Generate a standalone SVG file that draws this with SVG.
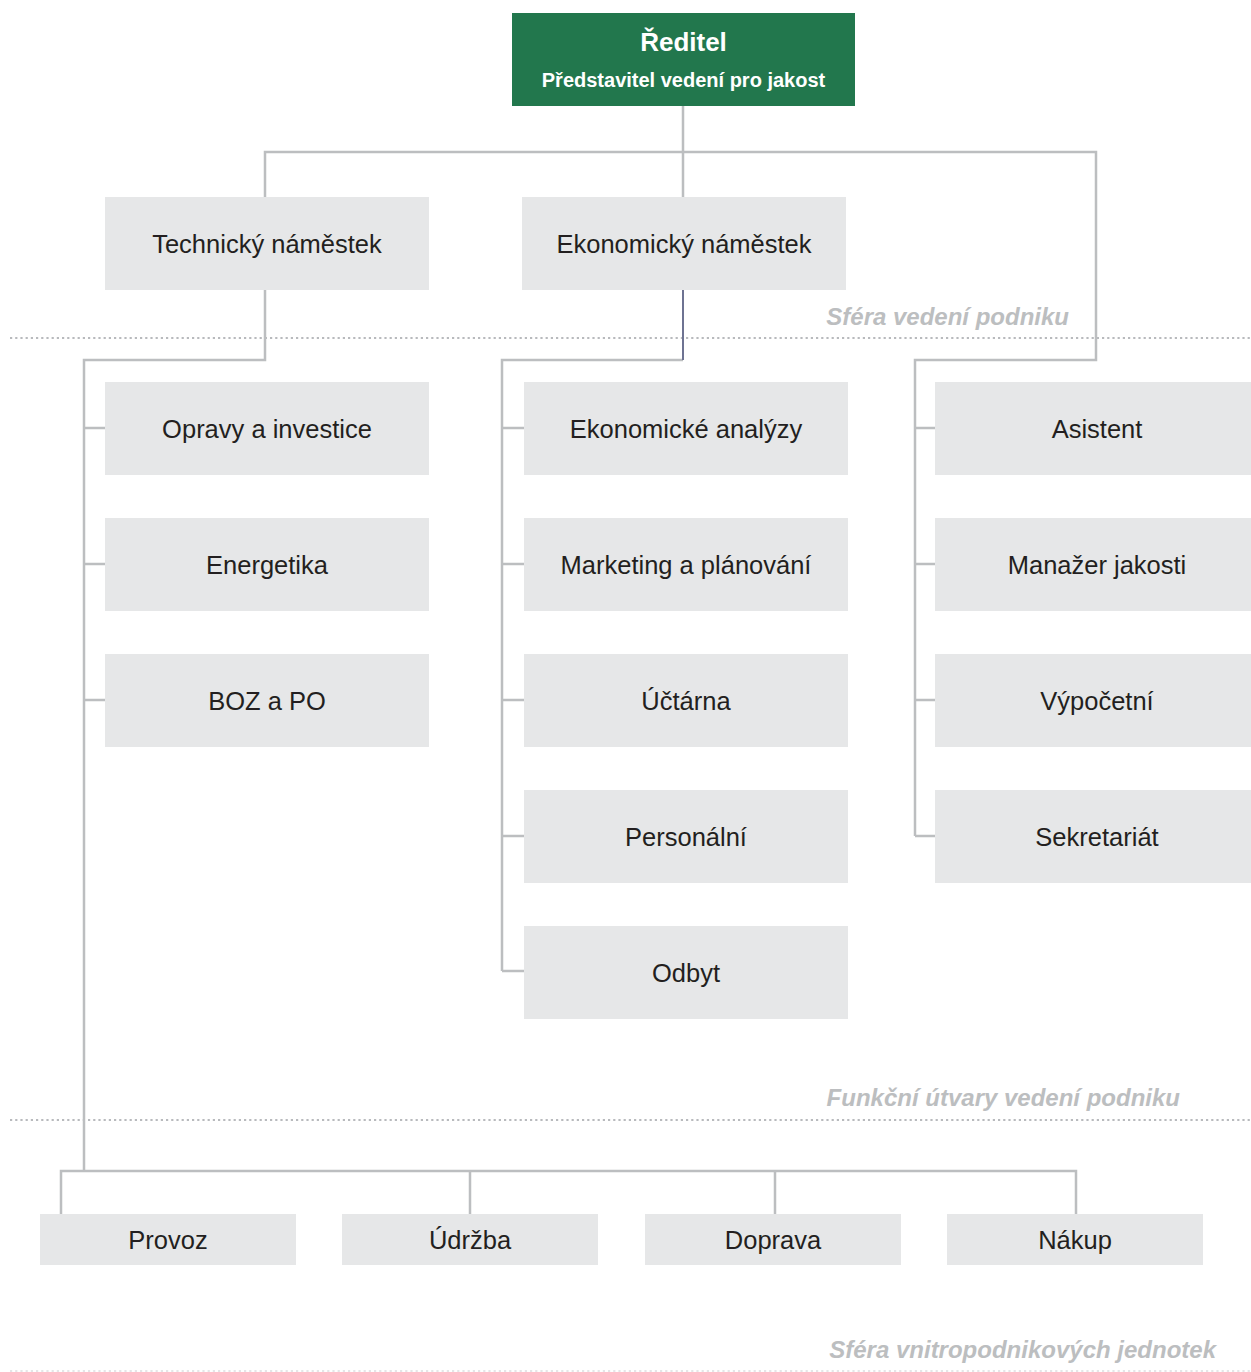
<svg xmlns="http://www.w3.org/2000/svg" width="1251" height="1372" viewBox="0 0 1251 1372">
<style>
.box{fill:#e6e7e8}
.lbl{font-family:"Liberation Sans",Arial,sans-serif;font-size:25.5px;fill:#231f20;text-anchor:middle}
.con{fill:none;stroke:#bcbec0;stroke-width:2.5}
.dot{fill:none;stroke:#b8babd;stroke-width:2.2;stroke-dasharray:2.2 3}
.zone{font-family:"Liberation Sans",Arial,sans-serif;font-size:24px;font-weight:bold;font-style:italic;fill:#bcbec0;text-anchor:end}
</style>
<rect width="1251" height="1372" fill="#ffffff"/>
<g id="zones">
<line class="dot" x1="10" y1="338" x2="1251" y2="338"/>
<line class="dot" x1="10" y1="1120" x2="1251" y2="1120"/>
<line x1="10" y1="1371" x2="1251" y2="1371" fill="none" stroke="#dcdde0" stroke-width="1.5" stroke-dasharray="2.2 3"/>
<text class="zone" x="1069" y="325">Sféra vedení podniku</text>
<text class="zone" x="1180" y="1106">Funkční útvary vedení podniku</text>
<text class="zone" x="1216" y="1358">Sféra vnitropodnikových jednotek</text>
</g>
<g id="connectors">
<path class="con" d="M683 106V197M265 197V152H1096V360H915V836"/>
<path class="con" d="M265 290V360H84V1171"/>
<path class="con" d="M61 1214V1171H1076V1214M470 1171V1214M775 1171V1214"/>
<path class="con" d="M683 360H502V971"/>
<path fill="none" stroke="#6e7392" stroke-width="2" d="M683 290V360"/>
<path class="con" d="M84 428H105M84 564H105M84 700H105"/>
<path class="con" d="M502 428H524M502 564H524M502 700H524M502 836H524M502 971H524"/>
<path class="con" d="M915 428H935M915 564H935M915 700H935M915 836H935"/>
</g>
<g id="reditel">
<rect x="512" y="13" width="343" height="93" fill="#22774d"/>
<text x="683.5" y="51" font-family="'Liberation Sans',Arial,sans-serif" font-size="26" font-weight="bold" fill="#ffffff" text-anchor="middle">Ředitel</text>
<text x="683.5" y="87" font-family="'Liberation Sans',Arial,sans-serif" font-size="20" font-weight="bold" fill="#ffffff" text-anchor="middle">Představitel vedení pro jakost</text>
</g>
<g id="technicky"><rect class="box" x="105" y="197" width="324" height="93"/><text class="lbl" x="267" y="253">Technický náměstek</text></g>
<g id="ekonomicky"><rect class="box" x="522" y="197" width="324" height="93"/><text class="lbl" x="684" y="253">Ekonomický náměstek</text></g>
<g id="opravy"><rect class="box" x="105" y="382" width="324" height="93"/><text class="lbl" x="267" y="438">Opravy a investice</text></g>
<g id="energetika"><rect class="box" x="105" y="518" width="324" height="93"/><text class="lbl" x="267" y="574">Energetika</text></g>
<g id="boz"><rect class="box" x="105" y="654" width="324" height="93"/><text class="lbl" x="267" y="710">BOZ a PO</text></g>
<g id="analyzy"><rect class="box" x="524" y="382" width="324" height="93"/><text class="lbl" x="686" y="438">Ekonomické analýzy</text></g>
<g id="marketing"><rect class="box" x="524" y="518" width="324" height="93"/><text class="lbl" x="686" y="574">Marketing a plánování</text></g>
<g id="uctarna"><rect class="box" x="524" y="654" width="324" height="93"/><text class="lbl" x="686" y="710">Účtárna</text></g>
<g id="personalni"><rect class="box" x="524" y="790" width="324" height="93"/><text class="lbl" x="686" y="846">Personální</text></g>
<g id="odbyt"><rect class="box" x="524" y="926" width="324" height="93"/><text class="lbl" x="686" y="982">Odbyt</text></g>
<g id="asistent"><rect class="box" x="935" y="382" width="316" height="93"/><text class="lbl" x="1097" y="438">Asistent</text></g>
<g id="manazer"><rect class="box" x="935" y="518" width="316" height="93"/><text class="lbl" x="1097" y="574">Manažer jakosti</text></g>
<g id="vypocetni"><rect class="box" x="935" y="654" width="316" height="93"/><text class="lbl" x="1097" y="710">Výpočetní</text></g>
<g id="sekretariat"><rect class="box" x="935" y="790" width="316" height="93"/><text class="lbl" x="1097" y="846">Sekretariát</text></g>
<g id="provoz"><rect class="box" x="40" y="1214" width="256" height="51"/><text class="lbl" x="168" y="1249">Provoz</text></g>
<g id="udrzba"><rect class="box" x="342" y="1214" width="256" height="51"/><text class="lbl" x="470" y="1249">Údržba</text></g>
<g id="doprava"><rect class="box" x="645" y="1214" width="256" height="51"/><text class="lbl" x="773" y="1249">Doprava</text></g>
<g id="nakup"><rect class="box" x="947" y="1214" width="256" height="51"/><text class="lbl" x="1075" y="1249">Nákup</text></g>
</svg>
